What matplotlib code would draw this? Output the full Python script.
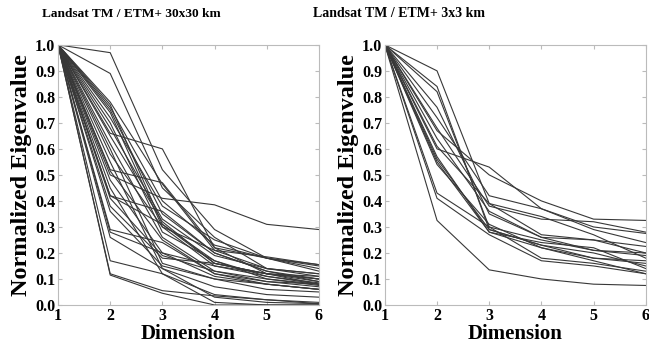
import numpy as np
import matplotlib
matplotlib.use("Agg")
import matplotlib.pyplot as plt

plt.rcParams['font.family'] = ['Liberation Serif', 'DejaVu Serif']
plt.rcParams['font.weight'] = 'bold'

dims = [1, 2, 3, 4, 5, 6]

# normalized eigenvalues, one row per site
curves_30km = [
    [1, 0.97, 0.52, 0.29, 0.18, 0.155],
    [1, 0.89, 0.45, 0.26, 0.14, 0.12],
    [1, 0.66, 0.60, 0.22, 0.12, 0.10],
    [1, 0.50, 0.41, 0.385, 0.31, 0.29],
    [1, 0.78, 0.465, 0.21, 0.185, 0.155],
    [1, 0.77, 0.31, 0.16, 0.12, 0.08],
    [1, 0.75, 0.35, 0.20, 0.13, 0.10],
    [1, 0.74, 0.30, 0.15, 0.11, 0.085],
    [1, 0.72, 0.38, 0.25, 0.18, 0.15],
    [1, 0.70, 0.28, 0.17, 0.10, 0.08],
    [1, 0.65, 0.32, 0.16, 0.12, 0.09],
    [1, 0.62, 0.26, 0.13, 0.09, 0.07],
    [1, 0.58, 0.30, 0.21, 0.14, 0.11],
    [1, 0.52, 0.47, 0.22, 0.18, 0.13],
    [1, 0.515, 0.25, 0.12, 0.08, 0.06],
    [1, 0.48, 0.20, 0.15, 0.12, 0.11],
    [1, 0.42, 0.36, 0.20, 0.13, 0.09],
    [1, 0.42, 0.31, 0.17, 0.11, 0.08],
    [1, 0.41, 0.19, 0.13, 0.10, 0.075],
    [1, 0.38, 0.18, 0.16, 0.12, 0.10],
    [1, 0.36, 0.15, 0.10, 0.06, 0.05],
    [1, 0.29, 0.24, 0.12, 0.09, 0.08],
    [1, 0.28, 0.20, 0.11, 0.08, 0.06],
    [1, 0.26, 0.14, 0.07, 0.04, 0.03],
    [1, 0.17, 0.12, 0.04, 0.02, 0.01],
    [1, 0.12, 0.055, 0.035, 0.02, 0.005],
    [1, 0.115, 0.045, 0.00, 0.00, 0.00],
    [1, 0.60, 0.16, 0.10, 0.08, 0.06],
    [1, 0.55, 0.14, 0.03, 0.01, 0.005],
    [1, 0.45, 0.12, 0.01, 0.00, 0.00],
    [1, 0.68, 0.33, 0.19, 0.14, 0.12],
    [1, 0.76, 0.40, 0.23, 0.18, 0.14],
]

curves_3km = [
    [1, 0.325, 0.135, 0.10, 0.08, 0.075],
    [1, 0.41, 0.27, 0.17, 0.15, 0.12],
    [1, 0.43, 0.30, 0.18, 0.16, 0.13],
    [1, 0.55, 0.28, 0.24, 0.22, 0.14],
    [1, 0.56, 0.29, 0.23, 0.20, 0.15],
    [1, 0.54, 0.31, 0.22, 0.17, 0.12],
    [1, 0.60, 0.53, 0.37, 0.29, 0.24],
    [1, 0.61, 0.39, 0.34, 0.27, 0.18],
    [1, 0.67, 0.50, 0.40, 0.33, 0.325],
    [1, 0.68, 0.38, 0.33, 0.32, 0.28],
    [1, 0.72, 0.42, 0.37, 0.30, 0.275],
    [1, 0.76, 0.35, 0.26, 0.25, 0.225],
    [1, 0.82, 0.30, 0.25, 0.21, 0.19],
    [1, 0.84, 0.29, 0.23, 0.18, 0.17],
    [1, 0.90, 0.39, 0.27, 0.25, 0.20],
    [1, 0.64, 0.36, 0.26, 0.21, 0.20],
    [1, 0.57, 0.28, 0.22, 0.18, 0.16],
]

titles = ["Landsat TM / ETM+ 30x30 km", "Landsat TM / ETM+ 3x3 km"]

fig = plt.figure(figsize=(6.49, 3.45), dpi=100)
ax1 = fig.add_axes([0.0894, 0.116, 0.402, 0.754])
ax2 = fig.add_axes([0.593, 0.116, 0.402, 0.754])

for ax, curves in [(ax1, curves_30km), (ax2, curves_3km)]:
    for c in curves:
        ax.plot(dims, c, color='#383838', lw=0.8)
    ax.set_xlim(1, 6)
    ax.set_ylim(0, 1)
    ax.set_xticks(dims)
    ax.set_yticks(np.arange(0, 1.01, 0.1))
    ax.set_yticklabels([f"{v:.1f}" for v in np.arange(0, 1.01, 0.1)])
    ax.tick_params(direction='in', length=3, color='#bbbbbb', top=True, right=True,
                   labelsize=11.5, pad=2)
    for s in ax.spines.values():
        s.set_color('#bbbbbb')
        s.set_linewidth(0.8)
    ax.set_xlabel("Dimension", fontsize=15, fontweight='bold', labelpad=0)
    ax.set_ylabel("Normalized Eigenvalue", fontsize=17.5, fontweight='bold')
    ax.yaxis.set_label_coords(-0.10, 0.5)

fig.text(0.202, 0.96, titles[0], ha='center', va='center', fontsize=9.6, fontweight='bold')
fig.text(0.615, 0.96, titles[1], ha='center', va='center', fontsize=10, fontweight='bold')

fig.savefig("out.png", dpi=100)
